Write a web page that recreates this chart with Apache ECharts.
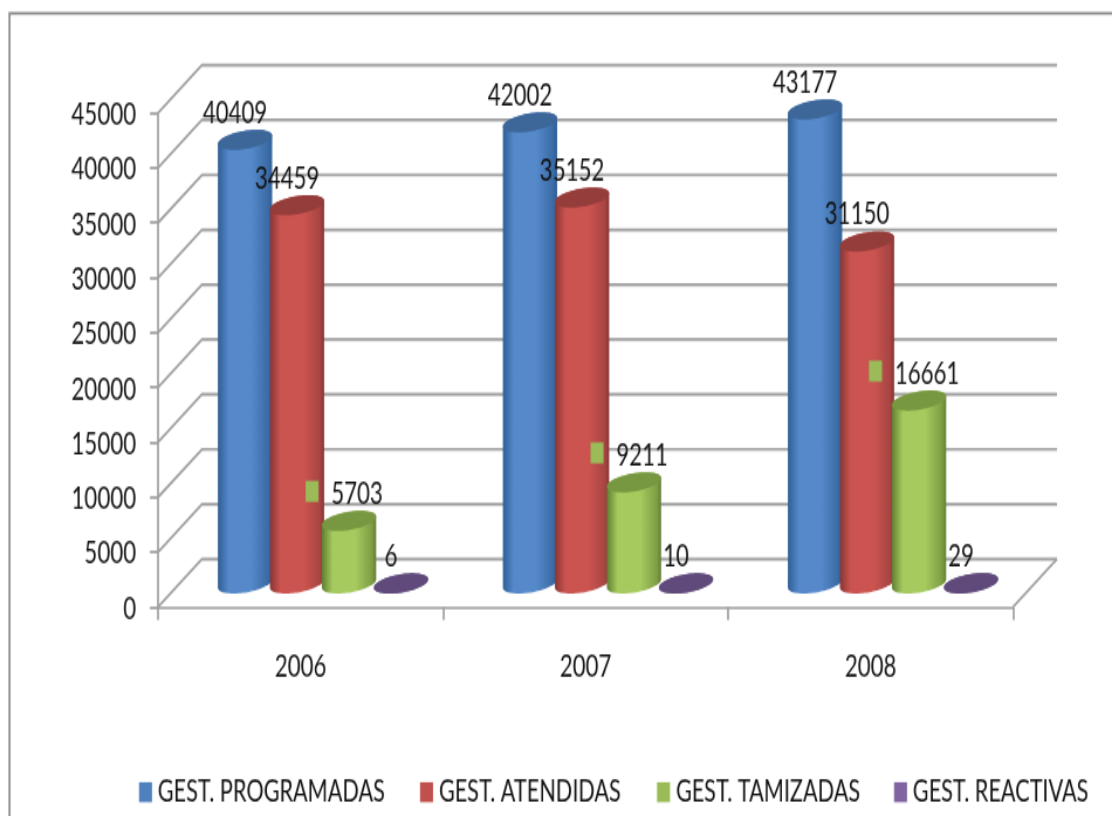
<!DOCTYPE html>
<html><head><meta charset="utf-8">
<style>html,body{margin:0;padding:0;background:#fff;overflow:hidden;width:1112px;height:816px}
#c{width:950px;height:510px;transform-origin:0 0;transform:scale(1.170526,1.6)}</style>
<script src="https://cdn.jsdelivr.net/npm/echarts@6/dist/echarts.min.js"></script>
</head><body><div id="c"></div>
<script>
const categories = ['2006','2007','2008'];
const programadas = [40409,42002,43177];
const atendidas = [34459,35152,31150];
const tamizadas = [5703,9211,16661];
const reactivas = [6,10,29];
const yTicks = [0,5000,10000,15000,20000,25000,30000,35000,40000,45000];
const seriesNames = ['GEST. PROGRAMADAS','GEST. ATENDIDAS','GEST. TAMIZADAS','GEST. REACTIVAS'];
const legendLeft = [139,420,657,894];
const FONT = 'Lato,"Open Sans",sans-serif';
// the reference is a picture stretched unevenly: the canvas is drawn small and stretched the same way
const SX = 1112/950, SY = 816/510;
const DEPTH_X = 44, DEPTH_Y = 48, BAR_SHIFT_X = 22.5, BAR_SHIFT_Y = 23.5;
const BAR_FRAC = 52/285, RX = 27.5, RY = 9, TILT = 10*Math.PI/180;
const palette = [
 {key:'#4f81bd',edge:'#2f5f96',mid:'#5589ca',end:'#3c6ca6',cap:'#3d6799'},
 {key:'#c0504d',edge:'#883634',mid:'#cc5450',end:'#a84543',cap:'#943d3a'},
 {key:'#9bbb59',edge:'#617f32',mid:'#a6ca5e',end:'#7f9e45',cap:'#779840'},
 {key:'#8064a2',edge:'#604a7b',mid:'#604a7b',end:'#604a7b',cap:'#604a7b'}
];
const toCanvas = p => [p[0]/SX, p[1]/SY];
function ell(cx,cy,t){
  const c=Math.cos(t), s=Math.sin(t);
  return [cx+RX*c*Math.cos(TILT)+RY*s*Math.sin(TILT), cy-RX*c*Math.sin(TILT)+RY*s*Math.cos(TILT)];
}
function ellipsePts(cx,cy,a,b,n){
  const out=[]; for(let i=0;i<=n;i++){ out.push(ell(cx,cy,a+(b-a)*i/n)); } return out;
}
function barGeom(seriesIndex, api){
  const catIdx = api.value(0), v = api.value(1);
  const top = api.coord([catIdx, v]), base = api.coord([catIdx, 0]);
  const bw = api.size([1,0])[0]*SX*BAR_FRAC;
  return {v, cx: top[0]*SX + BAR_SHIFT_X + (seriesIndex-1.5)*bw, ty: top[1]*SY-BAR_SHIFT_Y, by: base[1]*SY-BAR_SHIFT_Y};
}
function cylinder(seriesIndex){
  return function(params, api){
    const g = barGeom(seriesIndex, api);
    const t0 = Math.atan2(RY*Math.sin(TILT), RX*Math.cos(TILT));
    const lower = ellipsePts(g.cx,g.by,t0,t0+Math.PI,40);
    const upper = ellipsePts(g.cx,g.ty,t0+Math.PI,t0+2*Math.PI,40);
    const p = palette[seriesIndex];
    const fill = new echarts.graphic.LinearGradient(0,0,1,0,[
      {offset:0,color:p.edge},{offset:.2,color:p.mid},{offset:.62,color:p.mid},{offset:.92,color:p.end},{offset:1,color:p.edge}]);
    return {type:'group',children:[
      {type:'polygon',shape:{points:lower.concat(upper).map(toCanvas)},style:{fill:fill}},
      {type:'polygon',shape:{points:ellipsePts(g.cx,g.ty,0,2*Math.PI,60).map(toCanvas)},style:{fill:p.cap}}
    ]};
  };
}
function labelItem(seriesIndex){
  return function(params, api){
    const g = barGeom(seriesIndex, api);
    const txt = String(g.v);
    const lx = g.cx + (seriesIndex===2 ? 8 : -10);
    const ly = g.ty - 27;
    const kids = [{type:'text',z2:50,style:{text:txt,x:lx/SX,y:ly/SY,align:'center',verticalAlign:'middle',font:'19px '+FONT,fill:'#111'}}];
    if(seriesIndex===2){
      const w = txt.length*13;
      const kx = lx-w/2-19;
      kids.push({type:'rect',z2:50,shape:{x:(kx-6.5)/SX,y:(ly-13)/SY,width:13/SX,height:21/SY},style:{fill:palette[2].key}});
    }
    return {type:'group',children:kids};
  };
}
function wall(params, api){
  const v = api.value(0);
  const y = api.coord([0, v])[1];
  const cs = params.coordSys;
  const lx = cs.x, rx = cs.x+cs.width;
  const bx = lx+DEPTH_X/SX, by = y-DEPTH_Y/SY, brx = rx+DEPTH_X/SX;
  const st = {stroke:'#a0a0a0',lineWidth:1.7,fill:'none'};
  const kids = [
    {type:'line',shape:{x1:bx,y1:by+1,x2:brx,y2:by+1},style:{stroke:'#e6e6e6',lineWidth:1.2}},
    {type:'polyline',shape:{points:[[lx,y],[bx,by],[brx,by]]},style:st}
  ];
  if(v===0){ kids.push({type:'line',shape:{x1:rx,y1:y,x2:brx,y2:by},style:st}); }
  return {type:'group',children:kids};
}
const valueData = [programadas,atendidas,tamizadas,reactivas];
const series = [{type:'custom',name:'wall',silent:true,z:1,renderItem:wall,clip:false,encode:{y:0},data:yTicks.map(v=>[v])}];
valueData.forEach((vals,i)=>{
  series.push({type:'custom',name:seriesNames[i],z:5+i,clip:false,renderItem:cylinder(i),itemStyle:{color:palette[i].key},
    encode:{x:0,y:1},data:vals.map((v,j)=>[j,v])});
});
valueData.forEach((vals,i)=>{
  series.push({type:'custom',name:'lab'+i,silent:true,z:20,clip:false,renderItem:labelItem(i),encode:{x:0,y:1},data:vals.map((v,j)=>[j,v])});
});
const chart = echarts.init(document.getElementById('c'),null,{renderer:'canvas'});
chart.setOption({
  animation:false,
  backgroundColor:'#fff',
  graphic:[{type:'polyline',silent:true,shape:{points:[[9.5/SX,510],[9.5/SX,13.3/SY],[950,13.3/SY]]},style:{stroke:'#8c8c8c',lineWidth:1.7,fill:'none'}}],
  legend:seriesNames.map((n,i)=>({data:[n],padding:0,left:legendLeft[i]/SX,top:777/SY,itemWidth:13/SX,itemHeight:20/SY,icon:'rect',
    textStyle:{fontFamily:FONT,fontSize:18.5,color:'#111'}})),
  grid:{left:158/SX,right:99/SX,top:113/SY,bottom:209/SY},
  xAxis:{type:'category',data:categories,boundaryGap:true,
    axisLine:{lineStyle:{color:'#a0a0a0',width:1.7}},axisTick:{show:true,length:13/SY,lineStyle:{color:'#a0a0a0',width:1.7}},
    axisLabel:{margin:44/SY,fontFamily:FONT,fontSize:19,color:'#111'},splitLine:{show:false}},
  yAxis:{type:'value',min:0,max:45000,interval:5000,
    axisLine:{show:true,lineStyle:{color:'#a0a0a0',width:1.7}},axisTick:{show:true,length:8/SX,lineStyle:{color:'#a0a0a0',width:1.7}},
    axisLabel:{margin:22/SX,verticalAlign:'top',lineHeight:2.5,fontFamily:FONT,fontSize:19,color:'#111',formatter:v=>String(v)},splitLine:{show:false}},
  tooltip:{show:false},
  series:series
});
</script></body></html>
